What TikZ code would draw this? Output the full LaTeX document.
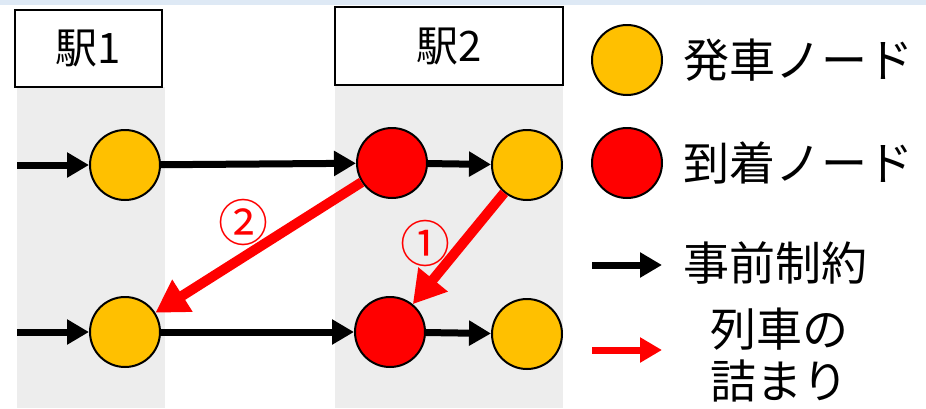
\documentclass[tikz,border=0pt]{standalone}
\usepackage{fontspec}
\newfontfamily\jpfont{Noto Sans CJK JP}
\usetikzlibrary{positioning,arrows.meta}
\definecolor{depyellow}{HTML}{FFC000}
\definecolor{arrred}{HTML}{FF0000}
\definecolor{bandgray}{HTML}{EDEDED}
\definecolor{topblue}{HTML}{DEE9F5}

\begin{document}
\begin{tikzpicture}[
        x=1pt, y=-1pt,
        font=\jpfont,
        station/.style={rectangle, draw, line width=1.5pt, fill=white,
            font=\jpfont\fontsize{42}{42}\selectfont},
        dep/.style={circle, draw, line width=2pt, fill=depyellow,
            minimum size=70pt, inner sep=0pt},
        arr/.style={dep, fill=arrred},
        line/.style={draw, -{Triangle[length=22pt,width=24pt]}, line width=7pt},
        jam/.style={draw=arrred, -{Triangle[length=32pt,width=36pt]}, line width=10pt},
        lgtext/.style={anchor=west, font=\jpfont\fontsize{46}{52}\selectfont},
        num/.style={text=arrred, font=\jpfont\fontsize{50}{50}\selectfont}
    ]
    \useasboundingbox (0,0) rectangle (926,408);
    \fill [topblue] (0,0) rectangle (926,5);

    % stations
    \fill [bandgray] (17,87) rectangle (165,408);
    \fill [bandgray] (335,85) rectangle (563,408);
    \node [station, minimum width=147pt, minimum height=77pt] (st1) at (88.5,48.5) {駅1};
    \node [station, minimum width=228pt, minimum height=78pt] (st2) at (449,46) {駅2};

    % nodes
    \node [dep] (d1) at (125,165) {};
    \node [arr] (a1) at (392,163) {};
    \node [dep] (d2) at (527,165) {};
    \node [dep] (d3) at (125,332) {};
    \node [arr] (a2) at (390,332) {};
    \node [dep] (d4) at (527,334) {};
    \coordinate (in1) at (17,165);
    \coordinate (in2) at (17,332);

    \path [line] (in1) -- (d1);
    \path [line] (d1) -- (a1);
    \path [line] (a1) -- (d2);
    \path [line] (in2) -- (d3);
    \path [line] (d3) -- (a2);
    \path [line] (a2) -- (d4);

    \path [jam] (a1) -- (d3);
    \path [jam] (d2) -- (a2);
    \node [num] (n2) at (243,222) {②};
    \node [num] (n1) at (425,243) {①};

    % legend
    \node [dep] (lgd) at (627,60) {};
    \node [lgtext] (lgdt) at (680,60) {発車ノード};
    \node [arr] (lga) at (627,163) {};
    \node [lgtext] (lgat) at (680,163) {到着ノード};
    \coordinate (lgp1) at (592,265);
    \coordinate (lgp2) at (662,265);
    \path [line] (lgp1) -- (lgp2);
    \node [lgtext] (lgpt) at (680,263) {事前制約};
    \coordinate (lgj1) at (592,350);
    \coordinate (lgj2) at (662,350);
    \path [draw=arrred, -{Triangle[length=22pt,width=24pt]}, line width=7pt] (lgj1) -- (lgj2);
    \node [align=center, font=\jpfont\fontsize{46}{52}\selectfont] (lgjt) at (779,355) {列車の\\詰まり};
\end{tikzpicture}
\end{document}
